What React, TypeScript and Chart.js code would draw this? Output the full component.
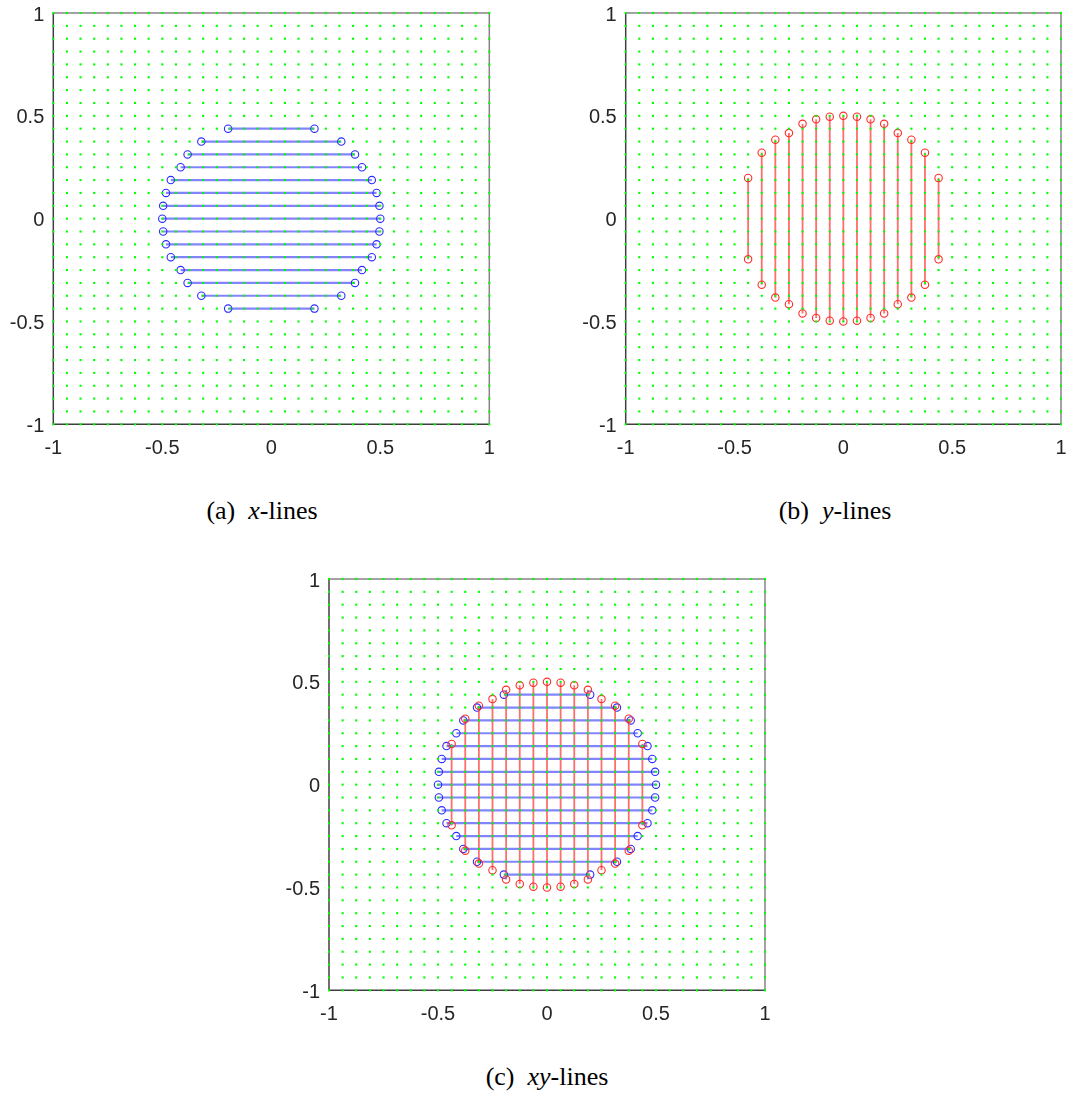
import React, { useEffect, useRef } from "react";
import { Chart, registerables } from "chart.js";

Chart.register(...registerables);

// Background lattice coordinates (both axes)
const gridCoords = [
  -1, -0.9375, -0.875, -0.8125, -0.75, -0.6875, -0.625, -0.5625, -0.5, -0.4375, -0.375,
  -0.3125, -0.25, -0.1875, -0.125, -0.0625, 0, 0.0625, 0.125, 0.1875, 0.25, 0.3125, 0.375,
  0.4375, 0.5, 0.5625, 0.625, 0.6875, 0.75, 0.8125, 0.875, 0.9375, 1,
];
// Positions of the x-lines (y values) and y-lines (x values)
const lineCoords = [
  -0.4375, -0.375, -0.3125, -0.25, -0.1875, -0.125, -0.0625, 0, 0.0625, 0.125, 0.1875, 0.25,
  0.3125, 0.375, 0.4375,
];
// Half lengths of each line (distance from centre to endpoint)
const halfLengths = [
  0.198, 0.321, 0.384, 0.416, 0.461, 0.483, 0.496, 0.5, 0.496, 0.483, 0.461, 0.416, 0.384,
  0.321, 0.198,
];
const tickValues = [-1, -0.5, 0, 0.5, 1];
const tickLabels = ["-1", "-0.5", "0", "0.5", "1"];

type Panel = {
  key: string;
  left: number;
  top: number;
  width: number;
  height: number;
  yAxisWidth: number;
  padTop: number;
  padRight: number;
  showX: boolean;
  showY: boolean;
};

const panels: Panel[] = [
  { key: "a", left: 0, top: 0, width: 500, height: 470, yAxisWidth: 53.3, padTop: 13, padRight: 10.7, showX: true, showY: false },
  { key: "b", left: 572, top: 0, width: 495, height: 470, yAxisWidth: 53.7, padTop: 13, padRight: 6, showX: false, showY: true },
  { key: "c", left: 276, top: 566, width: 500, height: 470, yAxisWidth: 53, padTop: 13, padRight: 11, showX: true, showY: true },
];

const boxPlugin = {
  id: "boxPlugin",
  beforeDatasetsDraw(chart: any) {
    const { ctx, chartArea: a } = chart;
    ctx.save();
    ctx.lineWidth = 1.5;
    ctx.strokeStyle = "#858585";
    ctx.beginPath();
    ctx.moveTo(a.left, a.top);
    ctx.lineTo(a.right, a.top);
    ctx.lineTo(a.right, a.bottom);
    ctx.stroke();
    ctx.strokeStyle = "#404040";
    ctx.beginPath();
    ctx.moveTo(a.left, a.top);
    ctx.lineTo(a.left, a.bottom);
    ctx.lineTo(a.right, a.bottom);
    ctx.stroke();
    ctx.restore();
  },
};

function buildDatasets(p: Panel) {
  const dots: { x: number; y: number }[] = [];
  for (const gx of gridCoords) for (const gy of gridCoords) dots.push({ x: gx, y: gy });
  const ds: any[] = [
    {
      data: dots,
      pointStyle: "rect",
      pointRadius: 1.5,
      pointBorderWidth: 0,
      pointBackgroundColor: "#00ff00",
      showLine: false,
      clip: false,
    },
  ];
  if (p.showY) {
    lineCoords.forEach((x, i) => {
      ds.push({
        data: [
          { x, y: -halfLengths[i] },
          { x, y: halfLengths[i] },
        ],
        showLine: true,
        clip: false,
        borderColor: "rgba(255,60,60,0.75)",
        borderWidth: 1.8,
        pointRadius: 3.7,
        pointBorderWidth: 1.1,
        pointBorderColor: "#ff2a2a",
        pointBackgroundColor: "rgba(0,0,0,0)",
      });
    });
  }
  if (p.showX) {
    lineCoords.forEach((y, i) => {
      ds.push({
        data: [
          { x: -halfLengths[i], y },
          { x: halfLengths[i], y },
        ],
        showLine: true,
        clip: false,
        borderColor: "rgba(100,100,255,0.8)",
        borderWidth: 2.2,
        pointRadius: 3.7,
        pointBorderWidth: 1.1,
        pointBorderColor: "#2a2aff",
        pointBackgroundColor: "rgba(0,0,0,0)",
      });
    });
  }
  return ds;
}

function PanelChart({ p }: { p: Panel }) {
  const ref = useRef<HTMLCanvasElement | null>(null);
  useEffect(() => {
    if (!ref.current) return;
    const xAxisHeight = 40;
    const padBottom = p.height - 424.3 - xAxisHeight;
    const font = { family: "'Liberation Sans', Arial, sans-serif", size: 20 };
    const fmt = (v: any) => {
      const i = tickValues.indexOf(Number(v));
      return i >= 0 ? tickLabels[i] : String(v);
    };
    const chart = new Chart(ref.current, {
      type: "scatter",
      data: { datasets: buildDatasets(p) },
      plugins: [boxPlugin],
      options: {
        animation: false,
        responsive: false,
        events: [],
        layout: { padding: { left: 0, top: p.padTop, right: p.padRight, bottom: padBottom } },
        plugins: { legend: { display: false }, tooltip: { enabled: false } },
        scales: {
          x: {
            type: "linear",
            min: -1,
            max: 1,
            afterBuildTicks: (s: any) => {
              s.ticks = tickValues.map((v) => ({ value: v }));
            },
            afterFit: (s: any) => {
              s.height = xAxisHeight;
              s.paddingLeft = 0;
              s.paddingRight = 0;
              s.paddingTop = 0;
              s.paddingBottom = 0;
            },
            grid: { display: false, drawTicks: false },
            border: { display: false },
            ticks: { font, color: "#262626", padding: 12, maxRotation: 0, autoSkip: false, callback: fmt },
          },
          y: {
            type: "linear",
            min: -1,
            max: 1,
            afterBuildTicks: (s: any) => {
              s.ticks = tickValues.map((v) => ({ value: v }));
            },
            afterFit: (s: any) => {
              s.width = p.yAxisWidth;
              s.paddingLeft = 0;
              s.paddingRight = 0;
              s.paddingTop = 0;
              s.paddingBottom = 0;
            },
            grid: { display: false, drawTicks: false },
            border: { display: false },
            ticks: { font, color: "#262626", padding: 9, labelOffset: 2, autoSkip: false, callback: fmt },
          },
        },
      } as any,
    });
    return () => chart.destroy();
  }, [p]);
  return (
    <canvas
      ref={ref}
      width={p.width}
      height={p.height}
      style={{ position: "absolute", left: p.left, top: p.top, width: p.width, height: p.height }}
    />
  );
}

const captionStyle: React.CSSProperties = {
  position: "absolute",
  fontFamily: "'Liberation Serif', 'DejaVu Serif', serif",
  fontSize: 26,
  color: "#000",
  whiteSpace: "pre",
  transform: "translate(-50%, -50%)",
};

export default function App() {
  return (
    <div style={{ position: "absolute", left: 0, top: 0, width: 1067, height: 1097, background: "#fff", overflow: "hidden" }}>
      {panels.map((p) => (
        <PanelChart key={p.key} p={p} />
      ))}
      <div style={{ ...captionStyle, left: 262, top: 511 }}>
        (a)  <i>x</i>-lines
      </div>
      <div style={{ ...captionStyle, left: 835, top: 511 }}>
        (b)  <i>y</i>-lines
      </div>
      <div style={{ ...captionStyle, left: 547, top: 1077 }}>
        (c)  <i>xy</i>-lines
      </div>
    </div>
  );
}
